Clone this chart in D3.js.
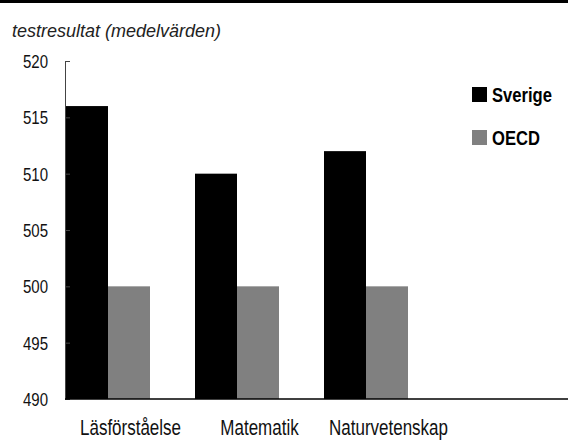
<!DOCTYPE html>
<html>
<head>
<meta charset="utf-8">
<script src="https://cdn.jsdelivr.net/npm/d3@7"></script>
<style>
    body { margin: 0; background: #fff; }
    #chart-container { width: 568px; height: 441px; }
    .narrow { font-family: "Liberation Sans", Arial, sans-serif; }
</style>
</head>
<body>
<div id="chart-container"></div>
<script>
const categories = ['Läsförståelse', 'Matematik', 'Naturvetenskap'];
const seriesNames = ['Sverige', 'OECD'];
const sverige = [516, 510, 512];
const oecd = [500, 500, 500];
const yTicks = [490, 495, 500, 505, 510, 515, 520];
const colors = ['#000000', '#808080'];

const width = 568;
const height = 441;
const squeeze = 0.79; // no condensed font installed, so squash horizontally

const svg = d3.select('#chart-container').append('svg')
    .attr('width', width)
    .attr('height', height);

// thin black rule across the top
svg.append('rect')
    .attr('x', 0).attr('y', 0)
    .attr('width', width).attr('height', 3)
    .attr('fill', '#000');

svg.append('text')
    .attr('x', 12)
    .attr('y', 37)
    .attr('font-family', '"Liberation Sans", Arial, sans-serif')
    .attr('font-style', 'italic')
    .attr('font-size', 18)
    .attr('fill', '#222')
    .text('testresultat (medelvärden)');

const y = d3.scaleLinear()
    .domain([490, 520])
    .range([399, 61]);

const x0 = d3.scaleBand()
    .domain(categories)
    .range([66, 66 + 129 * categories.length]);

const x1 = d3.scaleBand()
    .domain(seriesNames)
    .range([0, 84]);

const rows = categories.map((c, i) => ({ cat: c, values: [sverige[i], oecd[i]] }));

const groups = svg.append('g').selectAll('g')
    .data(rows)
    .enter().append('g')
    .attr('transform', d => `translate(${x0(d.cat)},0)`);

groups.selectAll('rect')
    .data(d => d.values.map((v, j) => ({ name: seriesNames[j], value: v, j: j })))
    .enter().append('rect')
    .attr('x', d => x1(d.name))
    .attr('y', d => y(d.value))
    .attr('width', x1.bandwidth())
    .attr('height', d => y(490) - y(d.value))
    .attr('fill', d => colors[d.j]);

// y axis: ticks point inward
const yAxis = svg.append('g')
    .attr('transform', 'translate(65,0)')
    .call(d3.axisRight(y).tickValues(yTicks).tickSize(5).tickSizeOuter(0).tickFormat(''));
yAxis.select('.domain').attr('stroke', '#444');
yAxis.selectAll('.tick line').attr('stroke', '#444');

svg.append('g').selectAll('text')
    .data(yTicks)
    .enter().append('text')
    .attr('class', 'narrow')
    .attr('transform', d => `translate(48,${y(d)}) scale(${squeeze},1)`)
    .attr('dy', '0.36em')
    .attr('text-anchor', 'end')
    .attr('font-size', 19)
    .attr('fill', '#111')
    .text(d => d);

// x axis baseline runs to the edge
svg.append('line')
    .attr('x1', 65).attr('x2', width)
    .attr('y1', y(490)).attr('y2', y(490))
    .attr('stroke', '#000')
    .attr('stroke-width', 1.5);

svg.append('g').selectAll('text')
    .data(categories)
    .enter().append('text')
    .attr('class', 'narrow')
    .attr('transform', d => `translate(${x0(d) + x0.bandwidth() / 2},435) scale(${squeeze},1)`)
    .attr('text-anchor', 'middle')
    .attr('font-size', 21.5)
    .attr('fill', '#111')
    .text(d => d);

// legend
const legend = svg.append('g').selectAll('g')
    .data(seriesNames)
    .enter().append('g')
    .attr('transform', (d, i) => `translate(472,${87 + i * 43})`);

legend.append('rect')
    .attr('width', 15)
    .attr('height', 15)
    .attr('fill', (d, i) => colors[i]);

legend.append('text')
    .attr('class', 'narrow')
    .attr('transform', `translate(20,15) scale(${squeeze},1)`)
    .attr('font-size', 21)
    .attr('font-weight', 'bold')
    .attr('fill', '#000')
    .text(d => d);
</script>
</body>
</html>
